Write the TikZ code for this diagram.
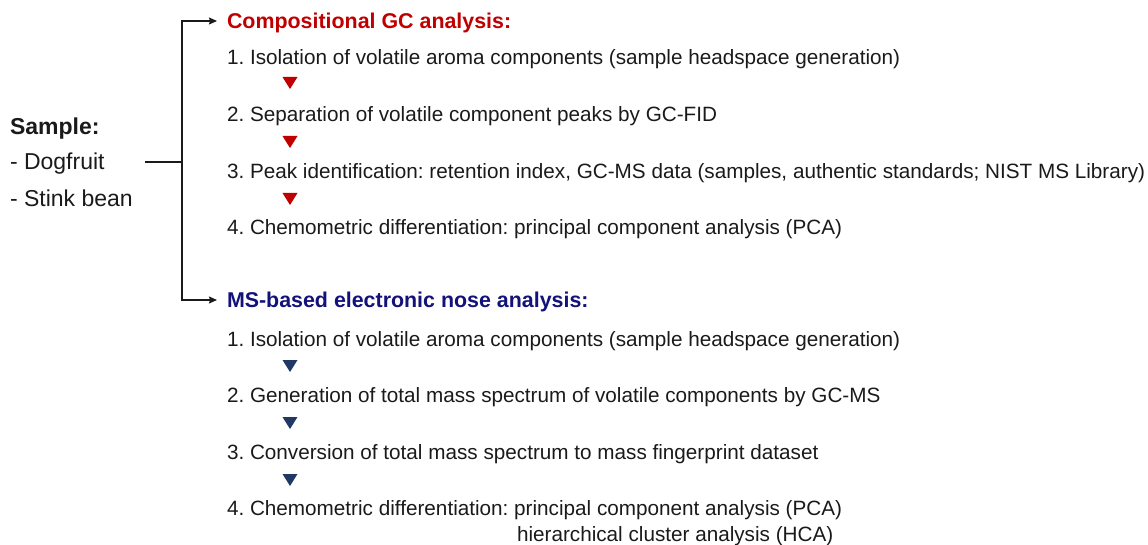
\documentclass[tikz,border=0pt]{standalone}
\usepackage{fontspec}
\setmainfont{Liberation Sans}
\usetikzlibrary{arrows.meta}
\frenchspacing
\definecolor{gcred}{HTML}{C00000}
\definecolor{msblue}{HTML}{12127A}
\definecolor{tblue}{HTML}{1F3864}
\definecolor{txt}{HTML}{1A1A1A}
\begin{document}
\begin{tikzpicture}[x=1pt,y=-1pt,
  body/.style={anchor=base west,inner sep=0pt,outer sep=0pt,text=txt,font=\fontsize{20.7}{24}\selectfont\frenchspacing},
  gchead/.style={anchor=base west,inner sep=0pt,outer sep=0pt,text=gcred,font=\fontsize{21.4}{25}\selectfont\bfseries},
  mshead/.style={anchor=base west,inner sep=0pt,outer sep=0pt,text=msblue,font=\fontsize{21.4}{25}\selectfont\bfseries},
  samp/.style={anchor=base west,inner sep=0pt,outer sep=0pt,text=txt,font=\fontsize{23}{27}\selectfont},
  link/.style={draw=txt,line width=1.3pt},
  linkarrow/.style={link,-{Stealth[length=8pt,width=7pt,inset=1pt]}}
]
\useasboundingbox (0,0) rectangle (1148,545);
% Sample
\node[samp,font=\fontsize{23}{27}\selectfont\bfseries] (sample) at (10,135) {Sample:};
\node[samp] (dog) at (10,170) {- Dogfruit};
\node[samp] (stink) at (10,207) {- Stink bean};
% GC branch
\node[gchead] (gc) at (227,29) {Compositional GC analysis:};
\node[body] (g1) at (227,65) {1. Isolation of volatile aroma components (sample headspace generation)};
\node[body] (g2) at (227,122) {2. Separation of volatile component peaks by GC-FID};
\node[body] (g3) at (227,179) {3. Peak identification: retention index, GC-MS data (samples, authentic standards; NIST MS Library)};
\node[body] (g4) at (227,235) {4. Chemometric differentiation: principal component analysis (PCA)};
% MS branch
\node[mshead] (ms) at (227,308) {MS-based electronic nose analysis:};
\node[body] (m1) at (227,346) {1. Isolation of volatile aroma components (sample headspace generation)};
\node[body] (m2) at (227,402) {2. Generation of total mass spectrum of volatile components by GC-MS};
\node[body] (m3) at (227,459) {3. Conversion of total mass spectrum to mass fingerprint dataset};
\node[body] (m4) at (227,515) {4. Chemometric differentiation: principal component analysis (PCA)};
\node[body] (m5) at (517,541) {hierarchical cluster analysis (HCA)};
% triangles
\foreach \y in {83,142,199} \fill[gcred] (282.5,\y-6) -- (297.5,\y-6) -- (290,\y+6) -- cycle;
\foreach \y in {366,423,480} \fill[tblue] (282.5,\y-6) -- (297.5,\y-6) -- (290,\y+6) -- cycle;
% connectors
\coordinate (s) at (145,162);
\coordinate (j) at (182,162);
\coordinate (gcin) at (217,21);
\coordinate (msin) at (217,300);
\draw[link] (s) -- (j);
\draw[linkarrow] (j) |- (gcin);
\draw[linkarrow] (j) |- (msin);
\end{tikzpicture}
\end{document}
